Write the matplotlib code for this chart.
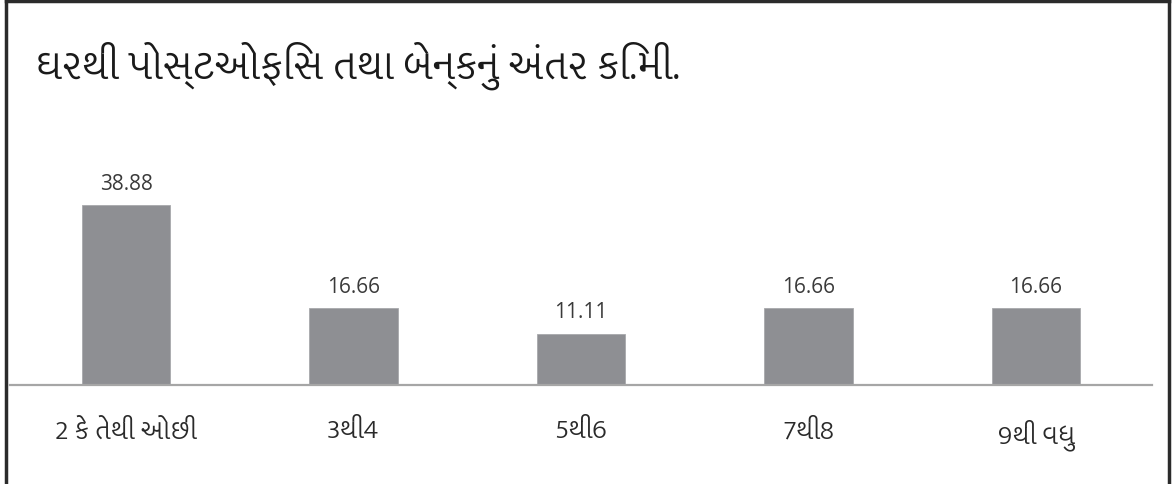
import matplotlib
matplotlib.use("Agg")
import matplotlib.pyplot as plt
from matplotlib import font_manager
from matplotlib.lines import Line2D

# data
categories = ["2 કે તેથી ઓછી", "3થી4", "5થી6", "7થી8", "9થી વધુ"]
values = [38.88, 16.66, 11.11, 16.66, 16.66]
value_labels = ["38.88", "16.66", "11.11", "16.66", "16.66"]
title = "ઘરથી પોસ્ટઓફિસ તથા બેન્કનું અંતર કિ.મી."

# matplotlib has no complex shaping, pick a Gujarati face that still looks ok
preferred = ["MuktaVaani-Light", "MuktaVaani-Regular", "NotoSansGujaratiUI-Regular",
             "NotoSansGujarati-Regular", "HindVadodara-Regular", "FreeSerif"]
paths = font_manager.findSystemFonts()
guj_path = None
for stem in preferred:
    hits = [p for p in paths if stem in p]
    if hits:
        guj_path = hits[0]
        break


def guj_font(size):
    if guj_path:
        return font_manager.FontProperties(fname=guj_path, size=size)
    return font_manager.FontProperties(family="DejaVu Sans", size=size)


fig = plt.figure(figsize=(11.72, 4.85), dpi=100)
W, H = 1172, 485

ax = fig.add_axes([10 / W, 99 / H, 1142 / W, 236 / H])
x = list(range(len(values)))
ax.bar(x, values, width=0.39, color="#8e8f93", edgecolor="#a8a9ac", linewidth=0.6)
ax.set_xlim(-0.51, 4.51)
ax.set_ylim(0, 236 / 4.63)

for xi, v, lab in zip(x, values, value_labels):
    ax.text(xi, v + 4.7, lab, ha="center", va="center", fontsize=15,
            color="#3a3a3a", family=["Open Sans", "DejaVu Sans"])

for s in ["top", "right", "left"]:
    ax.spines[s].set_visible(False)
ax.spines["bottom"].set_color("#a6a6a6")
ax.spines["bottom"].set_linewidth(1.6)
ax.set_yticks([])
ax.set_xticks(x)
ax.set_xticklabels(categories, color="#2a2a2a")
for lbl in ax.get_xticklabels():
    lbl.set_fontproperties(guj_font(20))
ax.tick_params(axis="x", length=0, pad=24)

t = fig.text(35 / W, 1 - 66 / H, title, ha="left", va="center",
             fontproperties=guj_font(30), color="#1a1a1a")

# shrink/grow the title so it spans roughly the same width as the reference
renderer = fig.canvas.get_renderer()
w = t.get_window_extent(renderer).width
t.set_fontsize(30 * 645 / w)

# frame around the picture (bottom edge is cropped in the reference)
border = dict(color="#2b2b2b", linewidth=2.5, transform=fig.transFigure)
fig.add_artist(Line2D([6 / W, 6 / W], [0, 1 - 1.5 / H], **border))
fig.add_artist(Line2D([6 / W, 1169 / W], [1 - 1.5 / H, 1 - 1.5 / H], **border))
fig.add_artist(Line2D([1169 / W, 1169 / W], [0, 1 - 1.5 / H], **border))

fig.savefig("out.png", dpi=100, facecolor="white")
